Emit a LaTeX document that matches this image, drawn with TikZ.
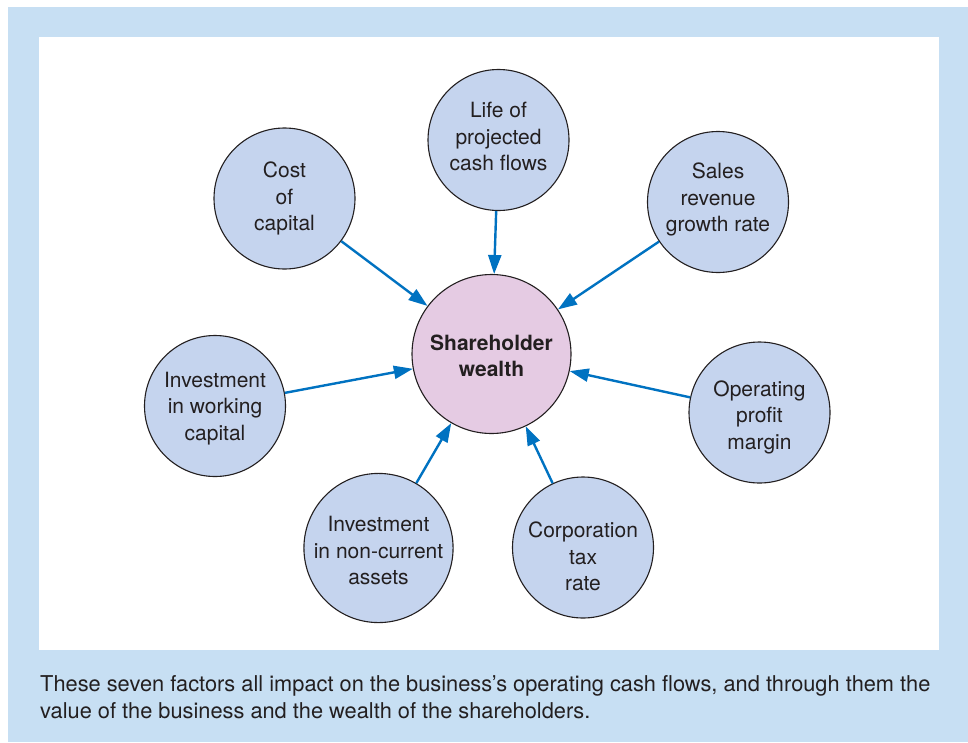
\documentclass[tikz,border=0pt]{standalone}
\usepackage{fontspec}
\setmainfont{TeX Gyre Heros}
\usetikzlibrary{arrows.meta}
\definecolor{panelblue}{HTML}{C7DFF3}
\definecolor{factorblue}{HTML}{C5D4EE}
\definecolor{wealthpink}{HTML}{E5CBE3}
\definecolor{arrowblue}{HTML}{0072C1}
\definecolor{inkgrey}{HTML}{231F20}
% taller first line, to set a circle's text a little lower
\newcommand{\droptext}[1]{\rule{0pt}{#1}}

\begin{document}
\begin{tikzpicture}[x=1pt,y=-1pt,
  factor/.style={circle, draw=inkgrey, line width=1.1pt, fill=factorblue,
    minimum size=141pt, inner sep=0pt, align=center, text=inkgrey,
    font=\fontsize{21}{26.5}\selectfont},
  wealth/.style={factor, fill=wealthpink, minimum size=159pt,
    font=\fontsize{21}{26}\selectfont\bfseries},
  % deeper last line, to set a circle's text a little higher
  lifttext/.style={execute at end node={\rule[-#1]{0pt}{#1}}},
  feeds/.style={draw=arrowblue, line width=2.4pt,
    -{Triangle[length=19pt,width=13pt]}}]
\useasboundingbox (0,0) rectangle (968,742);
% Panel and white drawing area
\fill[panelblue] (8,7) rectangle (968,742);
\fill[white] (39,37) rectangle (939,650);

% Centre
\node[wealth] (wealth) at (491.5,354) {\droptext{19.5pt}Shareholder\\wealth};

% The seven factors
\node[factor] (cost) at (284.5,198.5) {Cost\\of\\capital};
\node[factor, lifttext=7pt] (life) at (498.5,140) {Life of\\projected\\cash flows};
\node[factor, lifttext=9pt] (sales) at (718,202) {Sales\\revenue\\growth rate};
\node[factor] (working) at (215,406) {\droptext{20pt}Investment\\in working\\capital};
\node[factor] (margin) at (759.5,412.5) {\droptext{25.5pt}Operating\\profit\\margin};
\node[factor] (noncurrent) at (378.5,548) {\droptext{21pt}Investment\\in non-current\\assets};
\node[factor] (tax) at (583,547.5) {\droptext{33.5pt}Corporation\\tax\\rate};

% Arrows into the centre
\foreach \f in {cost,life,sales,working,margin,noncurrent,tax}
  \draw[feeds] (\f) -- (wealth);

\node[anchor=west, inner sep=0pt, align=left, text=inkgrey,
  font=\fontsize{21.8}{27}\selectfont] (caption) at (40,697)
  {These seven factors all impact on the business’s operating cash flows, and through them the\\
   value of the business and the wealth of the shareholders.};
\end{tikzpicture}
\end{document}
